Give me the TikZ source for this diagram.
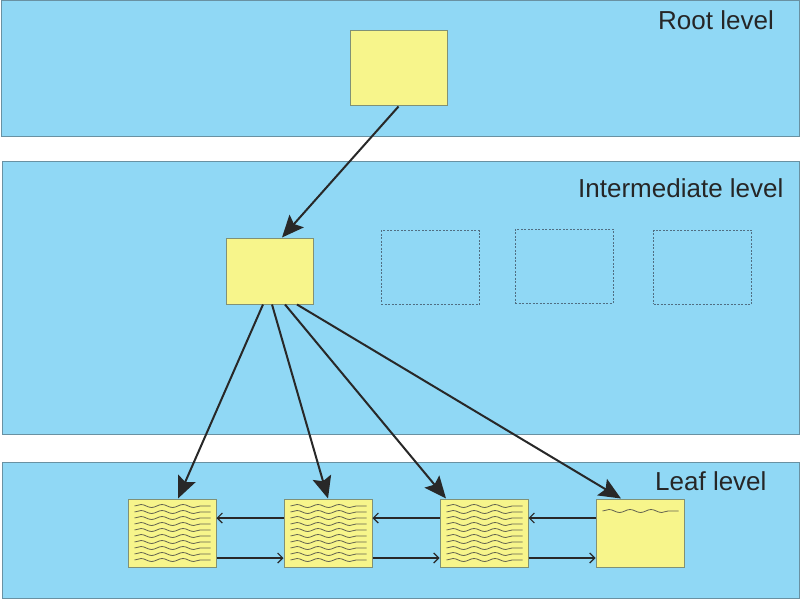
\documentclass[tikz,border=0pt]{standalone}
\usepackage{fontspec}
\setmainfont{Liberation Sans}
\usetikzlibrary{arrows.meta,decorations.pathmorphing}
\definecolor{bandblue}{RGB}{144,216,245}
\definecolor{bandedge}{RGB}{105,145,162}
\definecolor{boxyellow}{RGB}{247,245,139}
\definecolor{boxedge}{RGB}{128,145,118}
\definecolor{arrowdark}{RGB}{40,40,40}
\definecolor{wavecol}{RGB}{100,100,80}
\definecolor{dashcol}{RGB}{80,110,130}
\tikzset{
  band/.style={draw=bandedge, fill=bandblue, line width=1pt, inner sep=0pt, anchor=north west},
  ybox/.style={draw=boxedge, fill=boxyellow, line width=1pt, inner sep=0pt, minimum width=#1, minimum height=68pt},
  ybox/.default=88pt,
  ghostbox/.style={draw=dashcol, line width=0.9pt, dash pattern=on 2pt off 1.5pt, inner sep=0pt, minimum width=98pt, minimum height=74pt},
  lvl/.style={font=\fontsize{26}{29}\selectfont, text=black!85, anchor=base west, inner sep=0pt},
  bigarrow/.style={draw=arrowdark, line width=2pt, -{Stealth[length=22pt,width=19pt,inset=4pt]}},
  linkarrow/.style={draw=arrowdark, line width=1.8pt, -{Straight Barb[length=5pt,width=10pt,line width=1.2pt]}},
  wave/.style={draw=wavecol, line width=0.8pt, decorate, decoration={snake, segment length=21pt, amplitude=1.5pt}}
}
\begin{document}
\begin{tikzpicture}[x=1pt,y=-1pt]
\useasboundingbox (0,0) rectangle (800,599);
% bands
\node[band, minimum width=798pt, minimum height=136pt] (rootband) at (0.5,0.5) {};
\node[band, minimum width=797pt, minimum height=273pt] (midband) at (1.5,161) {};
\node[band, minimum width=797pt, minimum height=136pt] (leafband) at (1.5,462) {};
% labels
\node[lvl] (rootlbl) at (658,30) {Root level};
\node[lvl] (midlbl) at (578,197) {Intermediate level};
\node[lvl] (leaflbl) at (655,490) {Leaf level};
% root box
\node[ybox=97pt, minimum height=75pt] (root) at (398.5,68.5) {};
% intermediate
\node[ybox=87pt, minimum height=66pt] (mid) at (269.5,271) {};
\node[ghostbox] (g1) at (430,267.5) {};
\node[ghostbox] (g2) at (564,266) {};
\node[ghostbox] (g3) at (702.5,267) {};
% leaves
\node[ybox] (l1) at (172,533) {};
\node[ybox] (l2) at (328,533) {};
\node[ybox] (l3) at (484,533) {};
\node[ybox] (l4) at (640,533) {};
% wavy content
\foreach \b in {l1,l2,l3}{
  \foreach \k in {0,...,9}{
    \pgfmathsetmacro{\dy}{27-6*\k}
    \draw[wave] ([xshift=7pt,yshift=\dy pt]\b.west) -- ([xshift=-6pt,yshift=\dy pt]\b.east);
  }
}
\draw[wave] ([xshift=7pt,yshift=22pt]l4.west) -- ([xshift=-6pt,yshift=22pt]l4.east);
% tree arrows
\draw[bigarrow] (root.south) -- ([xshift=12.5pt]mid.north);
\draw[bigarrow] ([xshift=-6.5pt]mid.south) -- ([xshift=6pt]l1.north);
\draw[bigarrow] ([xshift=2.5pt]mid.south) -- (l2.north);
\draw[bigarrow] ([xshift=15.5pt]mid.south) -- ([xshift=-38pt]l3.north);
\draw[bigarrow] ([xshift=27.5pt]mid.south) -- ([xshift=-19pt]l4.north);
% sibling links
\foreach \a/\b in {l1/l2,l2/l3,l3/l4}{
  \draw[linkarrow] ([yshift=15pt]\b.west) -- ([yshift=15pt]\a.east);
  \draw[linkarrow] ([yshift=-25pt]\a.east) -- ([yshift=-25pt]\b.west);
}
\end{tikzpicture}
\end{document}
